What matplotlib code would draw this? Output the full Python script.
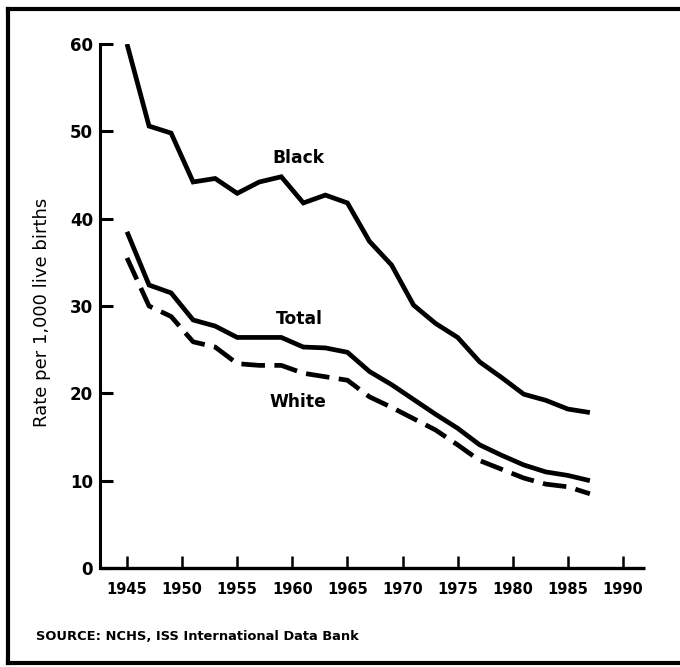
import matplotlib
matplotlib.use("Agg")
import matplotlib.pyplot as plt
from matplotlib.lines import Line2D

years = [1945, 1947, 1949, 1951, 1953, 1955, 1957, 1959, 1961, 1963, 1965,
         1967, 1969, 1971, 1973, 1975, 1977, 1979, 1981, 1983, 1985, 1987]
black = [60.0, 50.6, 49.8, 44.2, 44.6, 42.9, 44.2, 44.8, 41.8, 42.7, 41.8,
         37.4, 34.7, 30.1, 28.0, 26.4, 23.6, 21.8, 19.9, 19.2, 18.2, 17.8]
total = [38.5, 32.4, 31.5, 28.4, 27.7, 26.4, 26.4, 26.4, 25.3, 25.2, 24.7,
         22.5, 21.0, 19.3, 17.6, 16.0, 14.1, 12.9, 11.8, 11.0, 10.6, 10.0]
white = [35.5, 30.0, 28.8, 25.9, 25.3, 23.4, 23.2, 23.2, 22.3, 21.9, 21.5,
         19.6, 18.4, 17.1, 15.8, 14.1, 12.3, 11.3, 10.3, 9.6, 9.3, 8.5]

x_ticks = [1945, 1950, 1955, 1960, 1965, 1970, 1975, 1980, 1985, 1990]
y_ticks = [0, 10, 20, 30, 40, 50, 60]

series_labels = ["Black", "Total", "White"]
label_pos = [(1960.6, 46.9), (1960.6, 28.5), (1960.5, 19.0)]

y_title = "Rate per 1,000 live births"
source = "SOURCE: NCHS, ISS International Data Bank"

plt.rcParams['font.family'] = ['DejaVu Sans']

fig = plt.figure(figsize=(6.8, 6.67), dpi=100)
W, H = 680, 667
ax = fig.add_axes([100 / W, 1 - 568 / H, (645 - 100) / W, (568 - 44) / H])

lw = 3.4
ax.plot(years, black, color='black', lw=lw, solid_joinstyle='miter', solid_capstyle='butt')
ax.plot(years, total, color='black', lw=lw, solid_joinstyle='miter', solid_capstyle='butt')
ax.plot(years, white, color='black', lw=lw, dashes=(5, 2), dash_capstyle='butt')

ax.set_xlim(1942.55, 1992.0)
ax.set_ylim(0, 60)
ax.set_xticks(x_ticks)
ax.set_yticks(y_ticks)
ax.set_xticklabels([str(t) for t in x_ticks], fontsize=10.5, fontweight='bold')
ax.set_yticklabels([str(t) for t in y_ticks], fontsize=12, fontweight='bold')
ax.tick_params(axis='x', direction='in', length=9, width=1.8, pad=10)
ax.tick_params(axis='y', direction='in', length=9, width=2.2, pad=5)

for s in ['top', 'right']:
    ax.spines[s].set_visible(False)
ax.spines['left'].set_linewidth(2.2)
ax.spines['bottom'].set_linewidth(2.4)
ax.spines['bottom'].set_capstyle('butt')

for name, (lx, ly) in zip(series_labels, label_pos):
    ax.text(lx, ly, name, ha='center', va='center', fontsize=12.3, fontweight='bold')

fig.text(42.5 / W, 1 - 312.5 / H, y_title, rotation=90, ha='center', va='center',
         fontsize=13)
fig.text(36 / W, 1 - 637 / H, source, ha='left', va='center', fontsize=9.4,
         fontweight='bold')

# outer frame
frame_kw = dict(color='black', lw=3.0, transform=fig.transFigure, solid_capstyle='projecting')
fig.add_artist(Line2D([8 / W, 8 / W], [1 - 8.5 / H, 1 - 663 / H], **frame_kw))
fig.add_artist(Line2D([8 / W, 1.02], [1 - 8.5 / H, 1 - 8.5 / H], **frame_kw))
fig.add_artist(Line2D([8 / W, 1.02], [1 - 663 / H, 1 - 663 / H], **frame_kw))

fig.savefig("out.png", dpi=100)
